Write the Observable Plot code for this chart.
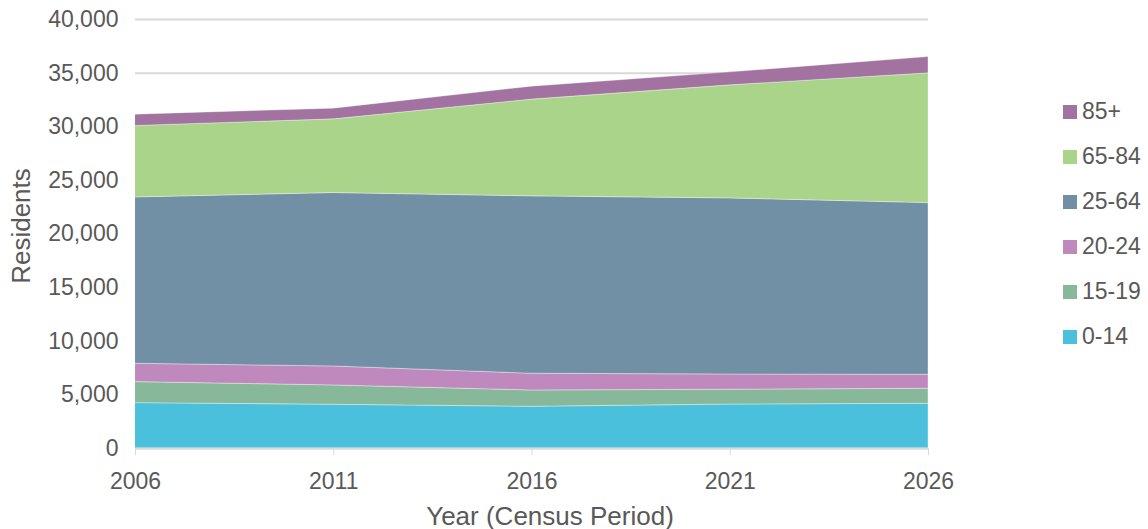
<!DOCTYPE html>
<html><head><meta charset="utf-8">
<script src="https://cdn.jsdelivr.net/npm/d3@7"></script>
<script src="https://cdn.jsdelivr.net/npm/@observablehq/plot@0.6"></script>
<style>
body{margin:0;background:#fff;font-family:"Liberation Sans",Arial,sans-serif;}
#wrap{position:relative;width:1148px;height:529px;overflow:hidden;}
#legend{position:absolute;left:1063px;top:89px;}
.item{display:flex;align-items:center;height:45px;font-size:23px;color:#595959;}
.sw{width:14px;height:14px;margin-right:5px;flex:none;}
</style>
</head><body>
<div id="wrap"><div id="chart"></div><div id="legend"></div></div>
<script>
const years = [2006, 2011, 2016, 2021, 2026];
const groups = ["0-14", "15-19", "20-24", "25-64", "65-84", "85+"];
const colors = ["#4AC0DC", "#87B89A", "#C089BE", "#7290A5", "#A9D48A", "#A272A0"];
const age0_14  = [4230, 4080, 3890, 4100, 4170];
const age15_19 = [1960, 1800, 1520, 1380, 1400];
const age20_24 = [1710, 1770, 1560, 1420, 1300];
const age25_64 = [15510, 16170, 16540, 16420, 16010];
const age65_84 = [6660, 6870, 9020, 10540, 12100];
const age85p   = [1060, 1000, 1210, 1210, 1520];
const yTicks = [0, 5000, 10000, 15000, 20000, 25000, 30000, 35000, 40000];

const series = [age0_14, age15_19, age20_24, age25_64, age65_84, age85p];
const data = groups.flatMap((g, i) => years.map((y, j) => ({year: y, group: g, value: series[i][j]})));

const chart = Plot.plot({
  width: 1148, height: 529,
  marginLeft: 135, marginRight: 220, marginTop: 19, marginBottom: 81,
  style: {fontFamily: '"Liberation Sans", Arial, sans-serif', fontSize: "23px", color: "#595959", background: "white", overflow: "visible"},
  x: {domain: [2006, 2026]},
  y: {domain: [0, 40000]},
  color: {domain: groups, range: colors},
  marks: [
    Plot.gridY(yTicks, {stroke: "#d9d9d9", strokeOpacity: 1, strokeWidth: 2}),
    Plot.areaY(data, {x: "year", y: "value", fill: "group", stroke: "white", strokeWidth: 0.7, strokeOpacity: 0.5}),
    Plot.ruleY([0], {stroke: "#d9d9d9", strokeWidth: 2}),
    Plot.axisX({ticks: years, tickFormat: d => String(d), tickSize: 7, tickPadding: 17, stroke: "#d9d9d9", strokeOpacity: 1,
      label: "Year (Census Period)", labelArrow: "none", labelAnchor: "center", labelOffset: 76}),
    Plot.axisY({ticks: yTicks, tickSize: 0, tickPadding: 17, tickFormat: d3.format(","),
      label: "Residents", labelArrow: "none", labelAnchor: "center", labelOffset: 124})
  ]
});
document.getElementById("chart").appendChild(chart);
d3.select(chart).selectAll('g[aria-label="x-axis label"] text')
  .style("font-size", "26px").attr("dx", 18)
  .each(function() { this.textContent = this.textContent.replace(/\s*[→←↑↓]\s*/g, ""); });
d3.select(chart).selectAll('g[aria-label="y-axis label"] text')
  .style("font-size", "26px").attr("dx", 8)
  .each(function() { this.textContent = this.textContent.replace(/\s*[→←↑↓]\s*/g, ""); });

const legend = document.getElementById("legend");
groups.slice().reverse().forEach(g => {
  const item = document.createElement("div");
  item.className = "item";
  const sw = document.createElement("div");
  sw.className = "sw";
  sw.style.background = colors[groups.indexOf(g)];
  const t = document.createElement("span");
  t.textContent = g;
  item.appendChild(sw); item.appendChild(t);
  legend.appendChild(item);
});
</script>
</body></html>
